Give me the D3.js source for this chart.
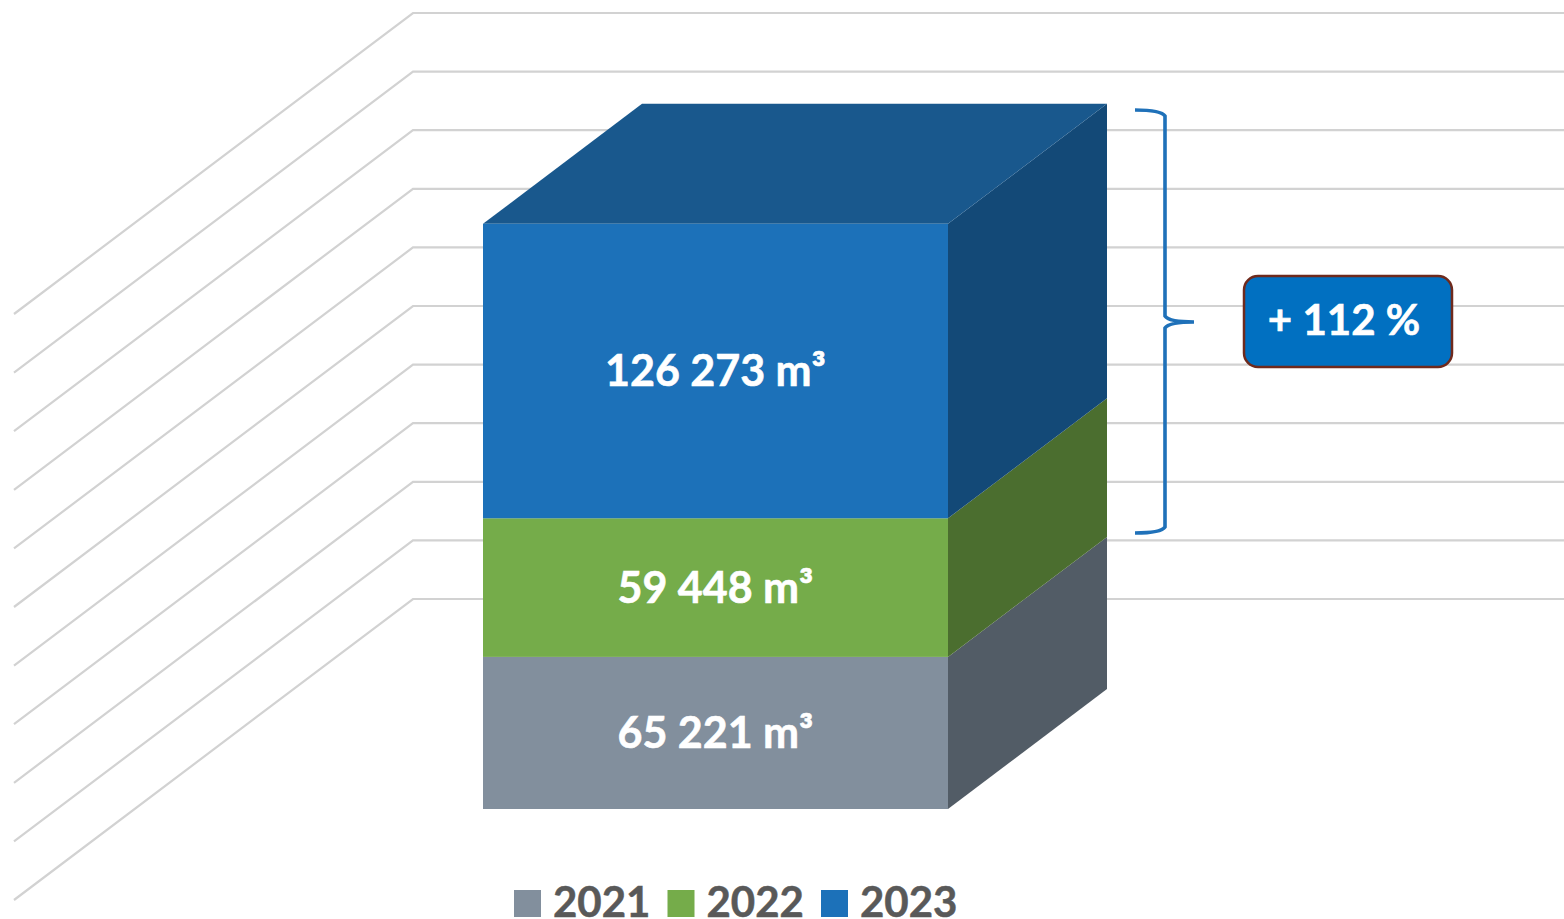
<!DOCTYPE html>
<html>
<head>
<meta charset="utf-8">
<title>Volume</title>
<script src="https://cdn.jsdelivr.net/npm/d3@7"></script>
<style>
  html, body { margin: 0; padding: 0; background: #fff; }
  svg { display: block; }
  text { font-family: Lato, sans-serif; font-weight: 700; }
</style>
</head>
<body>
<div id="chart"></div>
<script>
  var years = ['2021', '2022', '2023'];
  var volumes = [65221, 59448, 126273];
  var gridTicks = [0, 25000, 50000, 75000, 100000, 125000, 150000, 175000, 200000, 225000, 250000];
  var changeLabel = '+ 112 %';

  var frontColors = ['#828f9d', '#75ac4a', '#1c71b9'];
  var sideColors = ['#525c66', '#4b6e2f', '#134977'];
  var topColor = '#19588d';

  var width = 1564, height = 919;

  var svg = d3.select('#chart').append('svg')
    .attr('width', width)
    .attr('height', height);

  // stacked values, one row per year
  var row = {};
  years.forEach(function (y, i) { row[y] = volumes[i]; });
  var stacked = d3.stack().keys(years)([row]).map(function (s, i) {
    return { year: years[i], value: volumes[i], y0: s[0][0], y1: s[0][1], i: i };
  });

  var yBar = d3.scaleLinear().domain([0, 250000]).range([809, 226]);
  var yWall = d3.scaleLinear().domain([0, 250000]).range([599, 13]);
  var xBar = d3.scaleBand().domain(['total']).range([483, 948]);

  // depth of the 3D box and of the floor
  var boxDx = 159, boxDy = -120;
  var wallX = 413, wallRight = 1564, floorX = 14, floorDy = 301;

  var barLeft = xBar('total');
  var barRight = barLeft + xBar.bandwidth();

  // gridlines
  svg.append('g').selectAll('path')
    .data(gridTicks)
    .enter()
    .append('path')
    .attr('d', function (d) {
      var y = yWall(d);
      return 'M' + floorX + ',' + (y + floorDy) + 'L' + wallX + ',' + y + 'L' + wallRight + ',' + y;
    })
    .attr('fill', 'none')
    .attr('stroke', '#d2d2d2')
    .attr('stroke-width', 2.2);

  // side faces
  svg.append('g').selectAll('path')
    .data(stacked)
    .enter()
    .append('path')
    .attr('d', function (d) {
      return d3.line()([
        [barRight, yBar(d.y0)],
        [barRight + boxDx, yBar(d.y0) + boxDy],
        [barRight + boxDx, yBar(d.y1) + boxDy],
        [barRight, yBar(d.y1)]
      ]) + 'Z';
    })
    .attr('fill', function (d) { return sideColors[d.i]; });

  // top face
  var topY = yBar(d3.sum(volumes));
  svg.append('path')
    .attr('d', d3.line()([
      [barLeft, topY],
      [barLeft + boxDx, topY + boxDy],
      [barRight + boxDx, topY + boxDy],
      [barRight, topY]
    ]) + 'Z')
    .attr('fill', topColor);

  // front faces
  svg.append('g').selectAll('rect')
    .data(stacked)
    .enter()
    .append('rect')
    .attr('x', barLeft)
    .attr('width', xBar.bandwidth())
    .attr('y', function (d) { return yBar(d.y1); })
    .attr('height', function (d) { return yBar(d.y0) - yBar(d.y1); })
    .attr('fill', function (d) { return frontColors[d.i]; });

  var fmt = function (v) {
    return d3.format(',')(v).replace(',', ' ') + ' m³';
  };

  svg.append('g').selectAll('text')
    .data(stacked)
    .enter()
    .append('text')
    .attr('x', (barLeft + barRight) / 2)
    .attr('y', function (d) { return (yBar(d.y0) + yBar(d.y1)) / 2 + 15; })
    .attr('text-anchor', 'middle')
    .attr('fill', '#fff')
    .attr('stroke', '#fff')
    .attr('stroke-width', 0.6)
    .style('font-size', '43px')
    .text(function (d) { return fmt(d.value); });

  // brace next to the 2023 segment
  var braceX = 1165, braceTop = 110, braceBottom = 533, braceMid = 322;
  svg.append('path')
    .attr('d',
      'M1135,' + braceTop +
      'Q' + (braceX - 4) + ',' + braceTop + ' ' + braceX + ',' + (braceTop + 6) +
      'L' + braceX + ',' + (braceMid - 6) +
      'Q' + (braceX + 4) + ',' + braceMid + ' 1194,' + braceMid +
      'Q' + (braceX + 4) + ',' + braceMid + ' ' + braceX + ',' + (braceMid + 6) +
      'L' + braceX + ',' + (braceBottom - 6) +
      'Q' + (braceX - 4) + ',' + braceBottom + ' 1135,' + braceBottom)
    .attr('fill', 'none')
    .attr('stroke', '#1f71b9')
    .attr('stroke-width', 3.6);

  svg.append('rect')
    .attr('x', 1244)
    .attr('y', 276)
    .attr('width', 208)
    .attr('height', 91)
    .attr('rx', 14)
    .attr('fill', '#0170c1')
    .attr('stroke', '#6f2a1d')
    .attr('stroke-width', 2.5);

  svg.append('text')
    .attr('x', 1344)
    .attr('y', 335)
    .attr('text-anchor', 'middle')
    .attr('fill', '#fff')
    .attr('stroke', '#fff')
    .attr('stroke-width', 0.6)
    .style('font-size', '42px')
    .text(changeLabel);

  // legend
  var xLegend = d3.scalePoint().domain(years).range([514, 821]);
  var legend = svg.append('g').selectAll('g')
    .data(years)
    .enter()
    .append('g')
    .attr('transform', function (d) { return 'translate(' + xLegend(d) + ',890)'; });

  legend.append('rect')
    .attr('width', 27)
    .attr('height', 27)
    .attr('fill', function (d, i) { return frontColors[i]; });

  legend.append('text')
    .attr('x', 39)
    .attr('y', 27)
    .attr('fill', '#595959')
    .attr('stroke', '#595959')
    .attr('stroke-width', 0.5)
    .style('font-size', '42px')
    .text(function (d) { return d; });
</script>
</body>
</html>
